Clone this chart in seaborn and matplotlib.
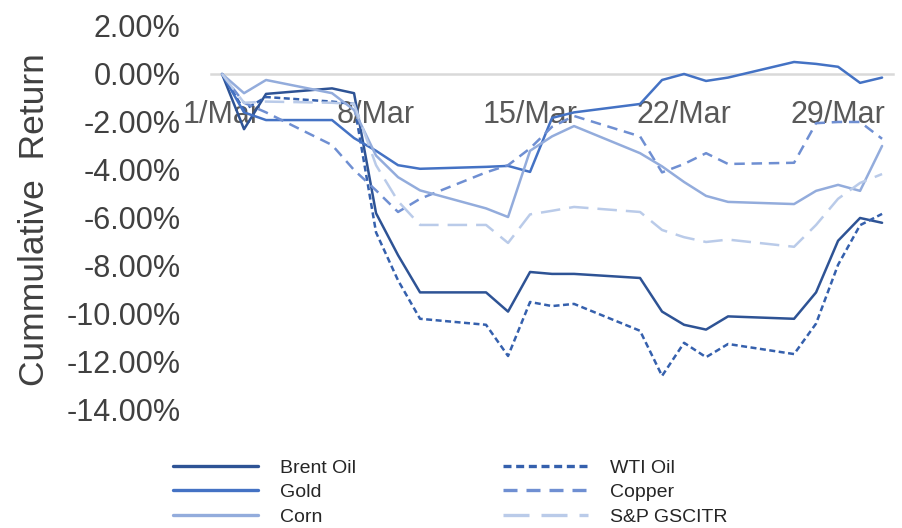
import matplotlib
matplotlib.use("Agg")
import matplotlib.pyplot as plt
from matplotlib.lines import Line2D
import seaborn as sns
import pandas as pd

# Trading days in March (day of month) and cumulative returns in percent
days = [1, 2, 3, 6, 7, 8, 9, 10, 13, 14, 15, 16, 17, 20, 21, 22, 23, 24, 27, 28, 29, 30, 31]

brent_oil = [0.0, -2.3, -0.83, -0.6, -0.8, -5.8, -7.55, -9.1, -9.1, -9.9, -8.25, -8.33, -8.33,
             -8.5, -9.9, -10.45, -10.65, -10.1, -10.2, -9.1, -6.95, -6.0, -6.2]
wti_oil = [0.0, -1.5, -0.96, -1.15, -1.25, -6.6, -8.6, -10.2, -10.45, -11.75, -9.5, -9.67, -9.58,
           -10.7, -12.58, -11.2, -11.8, -11.25, -11.67, -10.4, -7.95, -6.3, -5.83]
gold = [0.0, -1.6, -1.92, -1.92, -2.67, -3.2, -3.8, -3.95, -3.87, -3.83, -4.08, -1.83, -1.6,
        -1.25, -0.25, 0.0, -0.29, -0.15, 0.5, 0.42, 0.3, -0.37, -0.15]
copper = [0.0, -1.2, -1.6, -2.96, -4.0, -4.85, -5.75, -5.2, -4.1, -3.8, -3.1, -2.2, -1.75,
          -2.6, -4.1, -3.75, -3.3, -3.75, -3.7, -2.05, -2.0, -2.0, -2.7]
corn = [0.0, -0.8, -0.25, -0.8, -1.5, -3.4, -4.3, -4.85, -5.6, -5.96, -3.2, -2.6, -2.17,
        -3.3, -3.85, -4.5, -5.08, -5.33, -5.42, -4.87, -4.62, -4.87, -3.0]
sp_gscitr = [0.0, -1.2, -1.15, -1.2, -1.25, -3.8, -5.3, -6.29, -6.29, -7.04, -5.85, -5.7, -5.54,
             -5.75, -6.5, -6.8, -7.0, -6.9, -7.2, -6.29, -5.2, -4.54, -4.17]

series_names = ["Brent Oil", "WTI Oil", "Gold", "Copper", "Corn", "S&P GSCITR"]
series_values = [brent_oil, wti_oil, gold, copper, corn, sp_gscitr]

tick_days = [1, 8, 15, 22, 29]
tick_labels = ["1/Mar", "8/Mar", "15/Mar", "22/Mar", "29/Mar"]
y_ticks = [2, 0, -2, -4, -6, -8, -10, -12, -14]

colors = {
    "Brent Oil": "#2E5395",
    "WTI Oil": "#3560AD",
    "Gold": "#4472C4",
    "Copper": "#6F8FD2",
    "Corn": "#93ACDC",
    "S&P GSCITR": "#BACBE9",
}
dashes = {
    "Brent Oil": "",
    "WTI Oil": (2.4, 1.4),
    "Gold": "",
    "Copper": (4.2, 2.7),
    "Corn": "",
    "S&P GSCITR": (7.8, 3.6),
}

df = pd.DataFrame({
    "day": days * len(series_names),
    "ret": [v for vals in series_values for v in vals],
    "series": [n for n in series_names for _ in days],
})

sns.set_theme(style="white")
plt.rcParams["font.family"] = ["Liberation Sans", "DejaVu Sans"]

fig = plt.figure(figsize=(9.03, 5.28), dpi=100)
ax = fig.add_axes([0.2337, 0.2235, 0.7553, 0.7273])

sns.lineplot(data=df, x="day", y="ret", hue="series", style="series",
             hue_order=series_names, style_order=series_names,
             palette=colors, dashes=dashes, linewidth=1.8, legend=False,
             ax=ax, zorder=3)

ax.set_xlim(0.5, 31.5)
ax.set_ylim(-14, 2)
ax.set_yticks(y_ticks)
ax.set_yticklabels([f"{v:.2f}%" for v in y_ticks])
ax.set_xticks(tick_days)
ax.set_xticklabels(tick_labels)

for s in ["top", "right", "left"]:
    ax.spines[s].set_visible(False)
ax.spines["bottom"].set_position(("data", 0))
ax.spines["bottom"].set_color("#D9D9D9")
ax.spines["bottom"].set_linewidth(1.8)
ax.spines["bottom"].set_zorder(1)

ax.tick_params(axis="x", length=0, pad=19, labelsize=22, labelcolor="#595959")
ax.tick_params(axis="y", length=0, pad=22, labelsize=22, labelcolor="#404040")

ax.set_xlabel("")
ax.set_ylabel("Cummulative  Return", fontsize=25.5, color="#404040")
ax.yaxis.set_label_coords(-0.234, 0.495)

handles = []
order = ["Brent Oil", "Gold", "Corn", "WTI Oil", "Copper", "S&P GSCITR"]
for name in order:
    d = dashes[name]
    ls = "-" if d == "" else (0, d)
    handles.append(Line2D([0], [0], color=colors[name], lw=2.4, linestyle=ls))

leg = fig.legend(handles, order, ncol=2, loc="upper left",
                 bbox_to_anchor=(0.1805, 0.149), frameon=False,
                 fontsize=14, handlelength=4.37, handletextpad=1.13,
                 columnspacing=7.6, labelspacing=0.36, borderpad=0)
for t in leg.get_texts():
    t.set_color("#262626")

fig.savefig("out.png", dpi=100)
